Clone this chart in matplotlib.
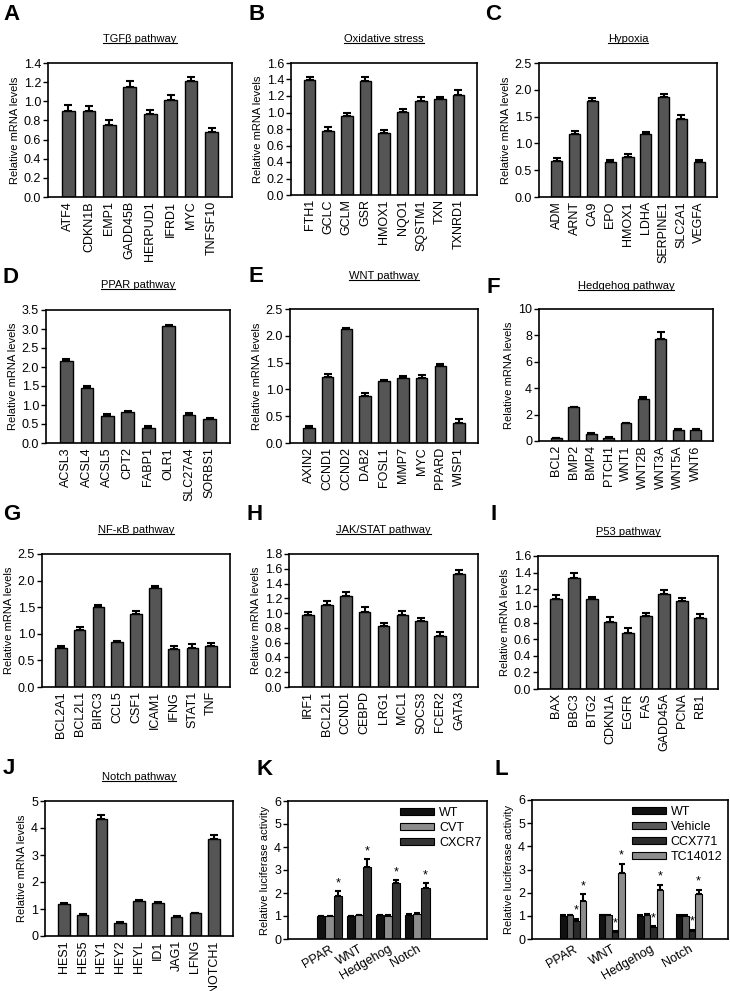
import matplotlib
matplotlib.use("Agg")
import matplotlib.pyplot as plt
from matplotlib.lines import Line2D
import numpy as np

plt.rcParams['font.family'] = ['Liberation Sans', 'DejaVu Sans']

# -------------------------------------------------------------------------
# qPCR data (relative mRNA levels, mean and SEM)
# -------------------------------------------------------------------------
tgfGenes = ['ATF4', 'CDKN1B', 'EMP1', 'GADD45B', 'HERPUD1', 'IFRD1', 'MYC', 'TNFSF10']
tgfMean = [0.90, 0.90, 0.75, 1.15, 0.87, 1.01, 1.21, 0.68]
tgfErr = [0.06, 0.05, 0.05, 0.06, 0.04, 0.06, 0.04, 0.04]

oxGenes = ['FTH1', 'GCLC', 'GCLM', 'GSR', 'HMOX1', 'NQO1', 'SQSTM1', 'TXN', 'TXNRD1']
oxMean = [1.39, 0.77, 0.96, 1.38, 0.75, 1.01, 1.14, 1.16, 1.21]
oxErr = [0.04, 0.05, 0.03, 0.05, 0.04, 0.03, 0.05, 0.03, 0.06]

hypGenes = ['ADM', 'ARNT', 'CA9', 'EPO', 'HMOX1', 'LDHA', 'SERPINE1', 'SLC2A1', 'VEGFA']
hypMean = [0.68, 1.18, 1.79, 0.65, 0.74, 1.17, 1.87, 1.46, 0.65]
hypErr = [0.05, 0.05, 0.06, 0.04, 0.06, 0.04, 0.06, 0.07, 0.04]

pparGenes = ['ACSL3', 'ACSL4', 'ACSL5', 'CPT2', 'FABP1', 'OLR1', 'SLC27A4', 'SORBS1']
pparMean = [2.17, 1.45, 0.72, 0.82, 0.40, 3.07, 0.74, 0.64]
pparErr = [0.05, 0.04, 0.04, 0.03, 0.04, 0.04, 0.05, 0.03]

wntGenes = ['AXIN2', 'CCND1', 'CCND2', 'DAB2', 'FOSL1', 'MMP7', 'MYC', 'PPARD', 'WISP1']
wntMean = [0.28, 1.23, 2.12, 0.88, 1.15, 1.21, 1.21, 1.44, 0.38]
wntErr = [0.04, 0.05, 0.03, 0.05, 0.03, 0.04, 0.05, 0.03, 0.06]

hhGenes = ['BCL2', 'BMP2', 'BMP4', 'PTCH1', 'WNT1', 'WNT2B', 'WNT3A', 'WNT5A', 'WNT6']
hhMean = [0.20, 2.55, 0.55, 0.25, 1.33, 3.20, 7.70, 0.82, 0.85]
hhErr = [0.05, 0.06, 0.06, 0.05, 0.05, 0.10, 0.55, 0.06, 0.05]

nfkbGenes = ['BCL2A1', 'BCL2L1', 'BIRC3', 'CCL5', 'CSF1', 'ICAM1', 'IFNG', 'STAT1', 'TNF']
nfkbMean = [0.73, 1.07, 1.50, 0.84, 1.37, 1.87, 0.72, 0.73, 0.78]
nfkbErr = [0.05, 0.05, 0.04, 0.03, 0.06, 0.03, 0.05, 0.07, 0.05]

jakGenes = ['IRF1', 'BCL2L1', 'CCND1', 'CEBPD', 'LRG1', 'MCL1', 'SOCS3', 'FCER2', 'GATA3']
jakMean = [0.97, 1.11, 1.23, 1.02, 0.83, 0.97, 0.90, 0.69, 1.53]
jakErr = [0.05, 0.05, 0.06, 0.06, 0.03, 0.06, 0.04, 0.05, 0.05]

p53Genes = ['BAX', 'BBC3', 'BTG2', 'CDKN1A', 'EGFR', 'FAS', 'GADD45A', 'PCNA', 'RB1']
p53Mean = [1.08, 1.34, 1.08, 0.81, 0.67, 0.88, 1.14, 1.06, 0.85]
p53Err = [0.05, 0.05, 0.03, 0.06, 0.06, 0.03, 0.05, 0.04, 0.05]

notchGenes = ['HES1', 'HES5', 'HEY1', 'HEY2', 'HEYL', 'ID1', 'JAG1', 'LFNG', 'NOTCH1']
notchMean = [1.20, 0.77, 4.35, 0.50, 1.28, 1.22, 0.72, 0.84, 3.60]
notchErr = [0.03, 0.03, 0.13, 0.03, 0.04, 0.05, 0.03, 0.03, 0.15]

# -------------------------------------------------------------------------
# Luciferase reporter data
# -------------------------------------------------------------------------
lucGroups = ['PPAR', 'WNT', 'Hedgehog', 'Notch']

kLabels = ['WT', 'CVT', 'CXCR7']
kMean = [[1.00, 1.00, 1.03, 1.05],
         [1.00, 1.03, 1.01, 1.10],
         [1.85, 3.15, 2.45, 2.22]]
kErr = [[0.02, 0.02, 0.02, 0.02],
        [0.02, 0.02, 0.02, 0.03],
        [0.23, 0.32, 0.12, 0.22]]
kStar = [False, False, True]

lLabels = ['WT', 'Vehicle', 'CCX771', 'TC14012']
lMean = [[1.00, 1.03, 1.00, 1.00],
         [1.02, 1.03, 1.05, 1.00],
         [0.78, 0.30, 0.50, 0.35],
         [1.63, 2.85, 2.12, 1.95]]
lErr = [[0.02, 0.02, 0.02, 0.02],
        [0.02, 0.02, 0.02, 0.02],
        [0.10, 0.05, 0.05, 0.05],
        [0.32, 0.40, 0.22, 0.18]]
lStar = [False, False, True, True]

FIG_W, FIG_H = 730, 991
BAR_COLOR = '#555555'
TICK_FS = 9


def addAxes(fig, l, t, r, b):
    """Axes from a pixel box (left, top, right, bottom)."""
    return fig.add_axes([l / FIG_W, 1 - b / FIG_H, (r - l) / FIG_W, (b - t) / FIG_H])


def styleAxes(ax, ymax, ystep, fmt):
    ax.set_ylim(0, ymax)
    ax.set_yticks(np.arange(0, ymax + ystep / 2, ystep))
    ax.yaxis.set_major_formatter(plt.FormatStrFormatter(fmt))
    for sp in ax.spines.values():
        sp.set_linewidth(1.2)
    ax.tick_params(axis='y', direction='out', length=3.5, width=1.0, labelsize=TICK_FS, pad=1.5)
    ax.tick_params(axis='x', length=0, labelsize=TICK_FS, pad=3)


def genePanel(fig, box, genes, means, errs, ymax, ystep, fmt, title, titleY, letter, letterXY):
    ax = addAxes(fig, *box)
    x = np.arange(len(genes))
    ax.bar(x, means, width=0.62, color=BAR_COLOR, edgecolor='black', linewidth=1.0, zorder=2)
    ax.errorbar(x, means, yerr=[np.zeros(len(errs)), errs], fmt='none', ecolor='black',
                elinewidth=1.5, capsize=3, capthick=1.5, zorder=1)
    ax.set_xlim(-1, len(genes))
    ax.set_xticks(x)
    ax.set_xticklabels(genes, rotation=90)
    styleAxes(ax, ymax, ystep, fmt)
    ax.set_ylabel('Relative mRNA levels', fontsize=8, labelpad=3)
    cx = (box[0] + box[2]) / 2
    t = fig.text(cx / FIG_W, 1 - titleY / FIG_H, title, ha='center', va='center', fontsize=8)
    titles.append(t)
    fig.text(letterXY[0] / FIG_W, 1 - letterXY[1] / FIG_H, letter, fontsize=16,
             fontweight='bold', ha='left', va='baseline')
    return ax


def lucPanel(fig, box, means, errs, labels, colors, stars, width, xlim, letter, letterXY):
    ax = addAxes(fig, *box)
    n = len(labels)
    x = np.arange(len(lucGroups))
    for idx in range(n):
        pos = x + (idx - (n - 1) / 2) * width
        ax.bar(pos, means[idx], width=width, color=colors[idx], edgecolor='black',
               linewidth=0.8, zorder=2, label=labels[idx])
        ax.errorbar(pos, means[idx], yerr=[np.zeros(len(x)), errs[idx]], fmt='none',
                    ecolor='black', elinewidth=1.5, capsize=2.5, capthick=1.5, zorder=1)
        if stars[idx]:
            for p, m, e in zip(pos, means[idx], errs[idx]):
                ax.text(p, m + e + 0.08, '*', ha='center', va='bottom', fontsize=9)
    ax.set_xlim(*xlim)
    ax.set_xticks(x)
    ax.set_xticklabels(lucGroups, rotation=30, ha='right', rotation_mode='anchor')
    styleAxes(ax, 6, 1, '%d')
    ax.set_ylabel('Relative luciferase activity', fontsize=8, labelpad=3)
    ax.legend(loc='upper right', frameon=False, fontsize=9, handlelength=2.7,
              handleheight=0.45, handletextpad=0.4, labelspacing=0.25,
              borderaxespad=0.15, borderpad=0.3)
    fig.text(letterXY[0] / FIG_W, 1 - letterXY[1] / FIG_H, letter, fontsize=16,
             fontweight='bold', ha='left', va='baseline')
    return ax


fig = plt.figure(figsize=(FIG_W / 100, FIG_H / 100), dpi=100)
titles = []

genePanel(fig, (48, 63, 232, 197), tgfGenes, tgfMean, tgfErr, 1.4, 0.2, '%.1f',
          'TGF\u03b2 pathway', 39, 'A', (3, 20))
genePanel(fig, (291, 63, 477, 195), oxGenes, oxMean, oxErr, 1.6, 0.2, '%.1f',
          'Oxidative stress', 39, 'B', (248, 20))
genePanel(fig, (539, 63, 717, 197), hypGenes, hypMean, hypErr, 2.5, 0.5, '%.1f',
          'Hypoxia', 39, 'C', (485, 20))
genePanel(fig, (46, 310, 230, 443), pparGenes, pparMean, pparErr, 3.5, 0.5, '%.1f',
          'PPAR pathway', 285, 'D', (3, 283))
genePanel(fig, (290, 309, 478, 443), wntGenes, wntMean, wntErr, 2.5, 0.5, '%.1f',
          'WNT pathway', 276, 'E', (248, 282))
genePanel(fig, (539, 309, 713, 441), hhGenes, hhMean, hhErr, 10, 2, '%d',
          'Hedgehog pathway', 286, 'F', (486, 293))
genePanel(fig, (42, 554, 230, 687), nfkbGenes, nfkbMean, nfkbErr, 2.5, 0.5, '%.1f',
          'NF-\u03baB pathway', 530, 'G', (3, 520))
genePanel(fig, (289, 554, 478, 687), jakGenes, jakMean, jakErr, 1.8, 0.2, '%.1f',
          'JAK/STAT pathway', 530, 'H', (247, 520))
genePanel(fig, (538, 556, 718, 689), p53Genes, p53Mean, p53Err, 1.6, 0.2, '%.1f',
          'P53 pathway', 532, 'I', (490, 520))
genePanel(fig, (45, 801, 233, 936), notchGenes, notchMean, notchErr, 5, 1, '%d',
          'Notch pathway', 777, 'J', (3, 774))

lucPanel(fig, (288, 801, 487, 939), kMean, kErr, kLabels, ['#111111', '#8c8c8c', '#333333'],
         kStar, 0.28, (-1.42, 5.38), 'K', (256, 775))
lucPanel(fig, (532, 800, 728, 939), lMean, lErr, lLabels,
         ['#111111', '#5a5a5a', '#2a2a2a', '#8c8c8c'],
         lStar, 0.17, (-1.07, 4.02), 'L', (494, 775))

# underline the pathway titles
fig.canvas.draw()
renderer = fig.canvas.get_renderer()
for t in titles:
    bb = t.get_window_extent(renderer)
    y = (bb.y0 + 1) / FIG_H
    fig.add_artist(Line2D([bb.x0 / FIG_W, bb.x1 / FIG_W], [y, y], color='black',
                          linewidth=0.8, transform=fig.transFigure))

fig.savefig('out.png', dpi=100)
